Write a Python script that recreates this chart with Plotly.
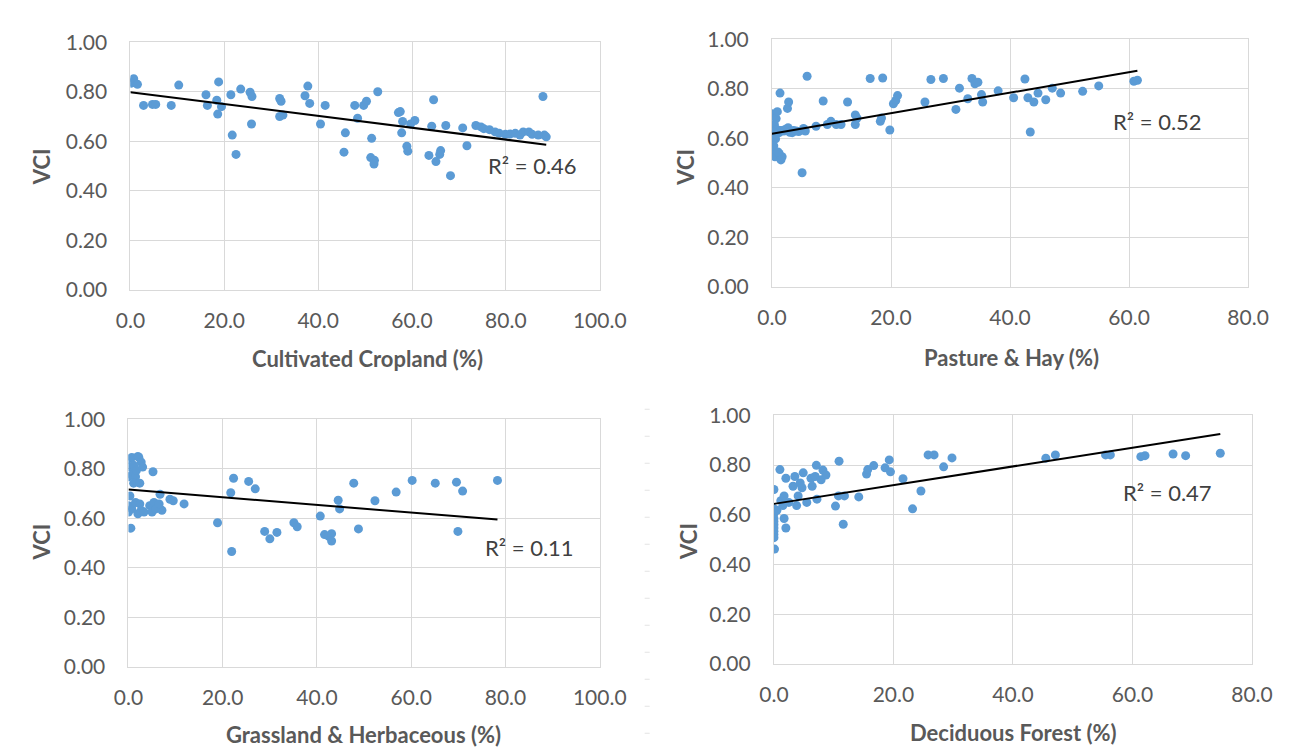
import plotly.graph_objects as go
import numpy as np

# ---------------- data ----------------
crop_x = [0, 0.7, 0.2, 1.5, 2.8, 4.7, 5.4, 8.7, 10.3, 16.1, 16.4, 18.8, 18.4, 18.6, 19.4, 21.4, 21.7, 22.5,
          23.5, 25.5, 25.9, 25.8, 31.8, 32.1, 31.8, 32.5, 37.2, 37.8, 38.2, 40.5, 41.5, 45.5, 45.8, 47.8,
          48.4, 49.7, 50.3, 51.4, 51.2, 52.0, 51.9, 52.7, 57.1, 57.5, 57.8, 58.0, 58.9, 59.1, 59.7, 60.6,
          63.6, 64.2, 64.6, 65.1, 66.1, 65.9, 67.2, 68.2, 70.8, 71.7, 73.6, 74.7, 75.3, 76.5, 77.7, 78.6,
          79.9, 80.9, 82.0, 83.0, 83.7, 84.9, 85.6, 86.9, 87.9, 88.2, 88.6]
crop_y = [0.84, 0.853, 0.835, 0.83, 0.745, 0.749, 0.749, 0.745, 0.827, 0.788, 0.745, 0.84, 0.766, 0.71,
          0.74, 0.788, 0.625, 0.547, 0.811, 0.798, 0.781, 0.67, 0.773, 0.762, 0.70, 0.706, 0.784, 0.823,
          0.753, 0.67, 0.745, 0.556, 0.634, 0.745, 0.693, 0.745, 0.762, 0.612, 0.534, 0.523, 0.508, 0.80,
          0.716, 0.72, 0.634, 0.68, 0.58, 0.56, 0.67, 0.684, 0.543, 0.661, 0.768, 0.518, 0.5625, 0.547,
          0.664, 0.461, 0.654, 0.582, 0.664, 0.658, 0.651, 0.647, 0.638, 0.632, 0.628, 0.629, 0.632, 0.625,
          0.638, 0.638, 0.628, 0.625, 0.781, 0.625, 0.618]

past_x = [0, 0, 0, 0, 0, 0.1, 0.3, 0.5, 0.7, 0.4, 0.9, 1.2, 1.35, 1.2, 1.5, 1.7, 2.0, 2.7, 2.6, 2.8, 3.4,
          4.05, 5.06, 5.6, 5.9, 7.4, 8.6, 9.3, 9.9, 10.8, 11.6, 12.7, 14.0, 14.0, 14.3, 16.5, 18.6, 18.2,
          18.4, 19.8, 20.4, 20.8, 21.1, 25.7, 26.7, 28.8, 30.9, 31.5, 32.9, 33.6, 34.1, 34.6, 35.2, 35.4,
          38.0, 40.6, 42.5, 43.0, 43.4, 44.0, 44.7, 46.0, 47.1, 48.5, 52.2, 54.9, 60.8, 61.4,
          0.8, 1.5, 2.2, 3.0, 3.6, 4.5, 5.3, 0.2, 0.6, 0.3, 1.0]
past_y = [0.70, 0.643, 0.61, 0.584, 0.565, 0.552, 0.539, 0.526, 0.68, 0.656, 0.708, 0.623, 0.783, 0.539,
          0.513, 0.526, 0.63, 0.643, 0.721, 0.747, 0.623, 0.63, 0.461, 0.63, 0.851, 0.649, 0.751, 0.656,
          0.669, 0.656, 0.656, 0.747, 0.656, 0.695, 0.682, 0.842, 0.844, 0.669, 0.682, 0.634, 0.740, 0.753,
          0.773, 0.747, 0.838, 0.842, 0.717, 0.803, 0.760, 0.842, 0.821, 0.827, 0.777, 0.747, 0.792, 0.764,
          0.840, 0.764, 0.626, 0.747, 0.783, 0.756, 0.803, 0.783, 0.79, 0.812, 0.831, 0.835,
          0.636, 0.632, 0.636, 0.625, 0.632, 0.628, 0.640, 0.625, 0.598, 0.57, 0.545]

grass_x = [0, 0.7, 2.0, 2.2, 0.3, 1.1, 2.7, 3.0, 0, 0.7, 1.5, 1.1, 2.4, 1.7, 5.2, 0.3, 0, 0, 0.7, 0.5, 1.5,
           2.0, 2.4, 2.7, 3.3, 4.5, 5.0, 5.4, 5.8, 6.7, 7.1, 6.5, 8.8, 9.5, 11.8, 18.9, 21.7, 21.9, 22.3,
           25.5, 26.9, 28.9, 30.0, 31.5, 35.1, 35.8, 40.7, 41.6, 42.5, 43.1, 43.1, 44.5, 44.8, 47.8, 48.8,
           52.3, 56.8, 60.2, 65.1, 69.6, 69.9, 70.9, 78.3]
grass_y = [0.84, 0.846, 0.85, 0.846, 0.807, 0.814, 0.827, 0.807, 0.768, 0.775, 0.768, 0.742, 0.742, 0.794,
           0.788, 0.69, 0.651, 0.625, 0.638, 0.56, 0.664, 0.618, 0.658, 0.632, 0.625, 0.651, 0.625, 0.664,
           0.638, 0.697, 0.632, 0.658, 0.677, 0.671, 0.658, 0.582, 0.703, 0.466, 0.762, 0.749, 0.719, 0.547,
           0.517, 0.543, 0.582, 0.566, 0.609, 0.534, 0.527, 0.538, 0.508, 0.673, 0.638, 0.742, 0.557, 0.671,
           0.706, 0.753, 0.742, 0.746, 0.547, 0.71, 0.753]

dec_x = [0, 0, 0, 0, 0, 0, 0, 0, 0, 0, 0.1, 0.5, 1.0, 1.15, 1.5, 1.7, 1.7, 2.0, 2.0, 2.5, 3.2, 3.5, 3.8,
         4.05, 4.4, 4.7, 4.9, 5.5, 6.2, 6.4, 6.9, 7.1, 7.2, 7.9, 8.2, 8.7, 10.3, 10.8, 10.9, 11.6, 11.8,
         14.2, 15.5, 15.7, 16.7, 18.6, 19.3, 19.5, 21.6, 23.2, 24.6, 25.8, 26.8, 28.4, 29.8, 45.5, 47.1,
         55.5, 56.3, 61.4, 62.1, 66.8, 68.9, 74.7]
dec_y = [0.702, 0.624, 0.605, 0.585, 0.573, 0.56, 0.547, 0.534, 0.521, 0.508, 0.462, 0.618, 0.782, 0.657,
         0.637, 0.676, 0.585, 0.547, 0.747, 0.65, 0.715, 0.754, 0.637, 0.676, 0.728, 0.709, 0.769, 0.65,
         0.747, 0.715, 0.754, 0.799, 0.663, 0.741, 0.78, 0.76, 0.635, 0.676, 0.816, 0.562, 0.676, 0.672,
         0.764, 0.782, 0.798, 0.789, 0.821, 0.773, 0.745, 0.624, 0.696, 0.841, 0.841, 0.793, 0.829, 0.828,
         0.841, 0.841, 0.841, 0.834, 0.838, 0.845, 0.838, 0.848]

titles = ["Cultivated Cropland (%)", "Pasture & Hay (%)", "Grassland & Herbaceous (%)", "Deciduous Forest (%)"]
r2_labels = ["R² = 0.46", "R² = 0.52", "R² = 0.11", "R² = 0.47"]
trend_intercept = [0.798, 0.619, 0.716, 0.644]
trend_slope = [-0.00239, 0.00414, -0.00155, 0.00377]
x_max = [100, 80, 100, 80]
x_dtick = [20, 20, 20, 20]
r2_pos_x = [75.8, 56.9, 75.2, 58.1]
r2_pos_y = [0.504, 0.669, 0.482, 0.689]

xs = [crop_x, past_x, grass_x, dec_x]
ys = [crop_y, past_y, grass_y, dec_y]

# ---------------- layout geometry ----------------
W, H = 1300, 750
# plot areas in pixels (left, right, top, bottom)
areas = [(111, 596, 21, 277), (774, 1266, 18, 274), (109, 596, 411, 667), (776, 1270, 407, 664)]
xtitle_pos = [(356, 348), (1022, 347), (352, 737), (1024, 735)]
ytitle_pos = [(20, 150), (685, 150), (19, 538), (687, 537)]

BLUE = "#5B9BD5"
GRID = "#D9D9D9"
TICK = "#595959"
FONT = "Lato, Calibri, Carlito, sans-serif"

fig = go.Figure()
layout = dict(
    width=W, height=H, margin=dict(l=0, r=0, t=0, b=0),
    paper_bgcolor="white", plot_bgcolor="white", showlegend=False,
    font=dict(family=FONT, color=TICK),
)
annotations = []
for i in range(4):
    sfx = "" if i == 0 else str(i + 1)
    l, r, t, b = areas[i]
    layout["xaxis" + sfx] = dict(
        domain=[l / W, r / W], anchor="y" + sfx, range=[0, x_max[i]], dtick=x_dtick[i],
        tickformat=".1f", showgrid=True, gridcolor=GRID, gridwidth=1, zeroline=False,
        showline=True, linecolor=GRID, linewidth=1, mirror=True, ticks="",
        tickfont=dict(size=21, color=TICK, family=FONT), ticklabelstandoff=12,
    )
    layout["yaxis" + sfx] = dict(
        domain=[1 - b / H, 1 - t / H], anchor="x" + sfx, range=[0, 1], dtick=0.2,
        tickformat=".2f", showgrid=True, gridcolor=GRID, gridwidth=1, zeroline=False,
        showline=True, linecolor=GRID, linewidth=1, mirror=True, ticks="",
        tickfont=dict(size=21, color=TICK, family=FONT), ticklabelstandoff=18,
    )
    fig.add_trace(go.Scatter(
        x=xs[i], y=ys[i], mode="markers", xaxis="x" + sfx, yaxis="y" + sfx,
        marker=dict(color=BLUE, size=9, line=dict(width=0)),
    ))
    x0, x1 = min(xs[i]), max(xs[i])
    tx = np.array([x0, x1])
    ty = trend_intercept[i] + trend_slope[i] * tx
    fig.add_trace(go.Scatter(
        x=tx, y=ty, mode="lines", xaxis="x" + sfx, yaxis="y" + sfx,
        line=dict(color="black", width=2),
    ))
    annotations.append(dict(
        text=r2_labels[i], x=r2_pos_x[i], y=r2_pos_y[i], xref="x" + sfx, yref="y" + sfx,
        xanchor="left", yanchor="middle", showarrow=False,
        font=dict(size=22, color="#404040", family=FONT),
    ))
    cx, cy = xtitle_pos[i]
    annotations.append(dict(
        text="<b>" + titles[i] + "</b>", x=cx / W, y=1 - cy / H, xref="paper", yref="paper",
        xanchor="center", yanchor="middle", showarrow=False,
        font=dict(size=22, color=TICK, family=FONT),
    ))
    vx, vy = ytitle_pos[i]
    annotations.append(dict(
        text="<b>VCI</b>", x=vx / W, y=1 - vy / H, xref="paper", yref="paper",
        xanchor="center", yanchor="middle", showarrow=False, textangle=-90,
        font=dict(size=22, color=TICK, family=FONT),
    ))

layout["annotations"] = annotations
layout["shapes"] = [dict(
    type="line", xref="paper", yref="paper", x0=645 / W, x1=645 / W, y0=1 - 400 / H, y1=0,
    line=dict(color="#E3E3E3", width=5, dash="1px,26px"),
)]
fig.update_layout(**layout)
fig.write_html("out.html")
